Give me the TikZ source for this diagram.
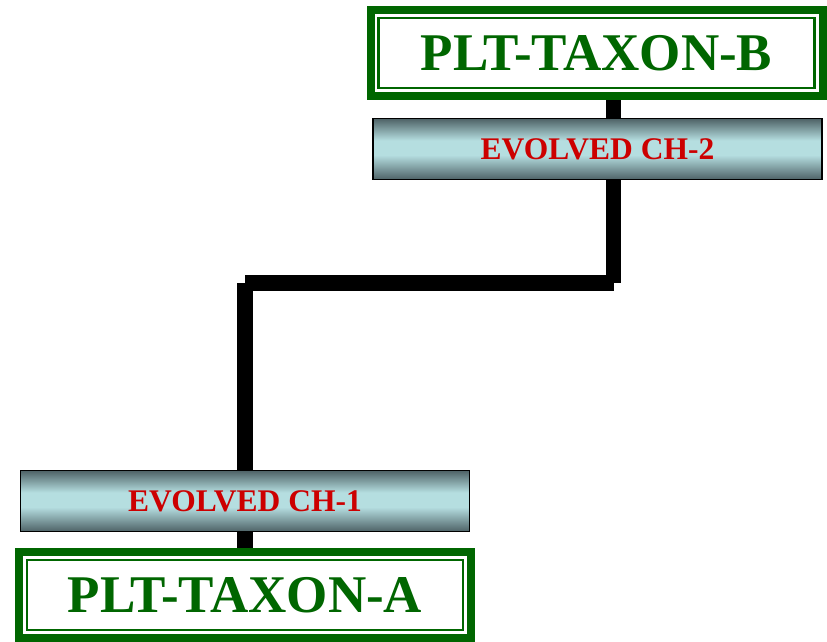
\documentclass[tikz,border=0pt]{standalone}
\usepackage{fontspec}
\setmainfont{Liberation Serif}
\usetikzlibrary{calc}
\definecolor{taxgreen}{HTML}{006600}
\definecolor{chred}{HTML}{CC0000}
\definecolor{bardark}{HTML}{4E6266}
\definecolor{barlight}{HTML}{B5DEE0}
\pgfdeclareverticalshading{barshade}{100bp}{color(0bp)=(bardark); color(25bp)=(bardark);
  color(45bp)=(barlight); color(57bp)=(barlight); color(75bp)=(bardark); color(100bp)=(bardark)}

\begin{document}
\begin{tikzpicture}[x=1pt,y=1pt,
taxon/.style={rectangle,draw=taxgreen,line width=8pt,fill=white,text=taxgreen,
  font=\fontsize{53}{60}\selectfont\bfseries,minimum width=452pt,minimum height=86pt,inner sep=0pt},
innerframe/.style={draw=taxgreen,line width=2.2pt},
charbar/.style={rectangle,draw=black,line width=1.5pt,shading=barshade,
  text=chred,font=\fontsize{31.5}{36}\selectfont\bfseries,minimum width=449pt,minimum height=61pt,inner sep=0pt},
branch/.style={line width=15.5pt,line cap=butt}
]

\useasboundingbox (0,0) rectangle (827,-641);

\node[taxon](taxonB) at (596.5,-53){PLT-TAXON-B};
\node[charbar](chTwo) at (597.5,-149){EVOLVED CH-2};

\node[charbar](chOne) at (245,-501){EVOLVED CH-1};
\node[taxon](taxonA) at (245,-595){PLT-TAXON-A};

% inner thin line of the double frame
\foreach \t in {taxonA,taxonB}
  \draw[innerframe] ($(\t.south west)+(12,12)$) rectangle ($(\t.north east)-(12,12)$);

\coordinate (elbowL) at (245,-283);
\coordinate (elbowR) at (613.5,-283);

\begin{scope}[branch]
\draw (taxonA.north)--(chOne.south);
\draw (chOne.north)--(elbowL);
\draw (elbowL)--(elbowR);
\draw (elbowR)--(elbowR |- chTwo.south);
\draw (elbowR |- chTwo.north)--(elbowR |- taxonB.south);
\end{scope}

\end{tikzpicture}
\end{document}
